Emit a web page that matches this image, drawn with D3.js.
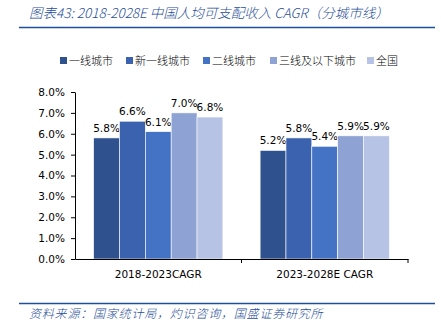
<!DOCTYPE html>
<html>
<head>
<meta charset="utf-8">
<script src="https://cdn.jsdelivr.net/npm/d3@7"></script>
<style>
  body { margin: 0; background: #fff; }
</style>
</head>
<body>
<div id="chart"></div>
<script>
var categories = ["2018-2023CAGR", "2023-2028E CAGR"];
var seriesNames = ["一线城市", "新一线城市", "二线城市", "三线及以下城市", "全国"];
var seriesValues = [
  [5.8, 5.2],
  [6.6, 5.8],
  [6.1, 5.4],
  [7.0, 5.9],
  [6.8, 5.9]
];
var yTicks = [0, 1, 2, 3, 4, 5, 6, 7, 8];
var colors = ["#2f528f", "#3a62ae", "#4472c4", "#8fa2d4", "#b6c3e4"];

var width = 441, height = 326;
var plotLeft = 75, plotRight = 408, plotTop = 92, plotBottom = 259;
var blue = "#1f4e9a";
var cjk = "'Noto Sans CJK SC', sans-serif";
var latin = "'DejaVu Sans', Verdana, sans-serif";

var svg = d3.select("#chart").append("svg")
  .attr("width", width)
  .attr("height", height);

// title and rules
svg.append("text")
  .attr("x", 29)
  .attr("y", 18)
  .style("fill", blue)
  .style("font-family", cjk)
  .style("font-style", "italic")
  .style("font-weight", 300)
  .style("font-size", "13.5px")
  .text("图表43:  2018-2028E 中国人均可支配收入 CAGR（分城市线）");

svg.append("line")
  .attr("x1", 19).attr("x2", 435)
  .attr("y1", 27.5).attr("y2", 27.5)
  .style("stroke", blue)
  .style("stroke-width", 1.5);

svg.append("line")
  .attr("x1", 19).attr("x2", 435)
  .attr("y1", 303.5).attr("y2", 303.5)
  .style("stroke", blue)
  .style("stroke-width", 1.5);

svg.append("text")
  .attr("x", 29)
  .attr("y", 318)
  .style("fill", blue)
  .style("font-family", cjk)
  .style("font-style", "italic")
  .style("font-weight", 300)
  .style("font-size", "12px")
  .style("letter-spacing", "0.8px")
  .text("资料来源：国家统计局，灼识咨询，国盛证券研究所");

// scales
var x0 = d3.scaleBand()
  .domain(categories)
  .range([plotLeft, plotRight]);

var x1 = d3.scaleBand()
  .domain(d3.range(seriesNames.length))
  .range([0, x0.bandwidth()])
  .paddingOuter(0.72);

var y = d3.scaleLinear()
  .domain([0, 8])
  .range([plotBottom, plotTop]);

// bars
var groups = svg.append("g")
  .selectAll("g")
  .data(categories)
  .join("g")
  .attr("transform", function(d) { return "translate(" + x0(d) + ",0)"; });

groups.each(function(cat, ci) {
  var g = d3.select(this);
  seriesNames.forEach(function(name, si) {
    var v = seriesValues[si][ci];
    g.append("rect")
      .attr("x", x1(si))
      .attr("y", y(v))
      .attr("width", x1.bandwidth())
      .attr("height", y(0) - y(v))
      .style("fill", colors[si])
      .style("stroke", "#fff")
      .style("stroke-width", 0.6);
    g.append("text")
      .attr("x", x1(si) + x1.bandwidth() / 2)
      .attr("y", y(v) - 6)
      .style("text-anchor", "middle")
      .style("font-family", latin)
      .style("font-size", "10.5px")
      .style("fill", "#000")
      .text(v.toFixed(1) + "%");
  });
});

// axes
var yAxis = d3.axisLeft(y)
  .tickValues(yTicks)
  .tickSize(4)
  .tickSizeOuter(0)
  .tickPadding(6)
  .tickFormat(function(d) { return d.toFixed(1) + "%"; });

var yg = svg.append("g")
  .attr("transform", "translate(" + plotLeft + ",0)")
  .call(yAxis);
yg.selectAll("text")
  .style("font-family", latin)
  .style("font-size", "10.5px")
  .style("fill", "#000");
yg.selectAll("line, path").style("stroke", "#000");

var xAxis = d3.axisBottom(x0)
  .tickSize(0)
  .tickSizeOuter(0)
  .tickPadding(12);

var xg = svg.append("g")
  .attr("transform", "translate(0," + plotBottom + ")")
  .call(xAxis);
xg.selectAll("text")
  .style("font-family", latin)
  .style("font-size", "10.5px")
  .style("fill", "#000");
xg.select("path").style("stroke", "#000");

// band separator ticks
xg.selectAll(".sep")
  .data(categories)
  .join("line")
  .attr("class", "sep")
  .attr("x1", function(d) { return x0(d) + x0.bandwidth(); })
  .attr("x2", function(d) { return x0(d) + x0.bandwidth(); })
  .attr("y1", 0)
  .attr("y2", 4)
  .style("stroke", "#000");

// legend
var legendX = [60, 126, 203, 270, 367];
var legend = svg.append("g");
seriesNames.forEach(function(name, i) {
  legend.append("rect")
    .attr("x", legendX[i])
    .attr("y", 57)
    .attr("width", 7)
    .attr("height", 7)
    .style("fill", colors[i]);
  legend.append("text")
    .attr("x", legendX[i] + 9)
    .attr("y", 65)
    .style("font-family", cjk)
    .style("font-weight", 300)
    .style("font-size", "11px")
    .style("fill", "#000")
    .text(name);
});
</script>
</body>
</html>
